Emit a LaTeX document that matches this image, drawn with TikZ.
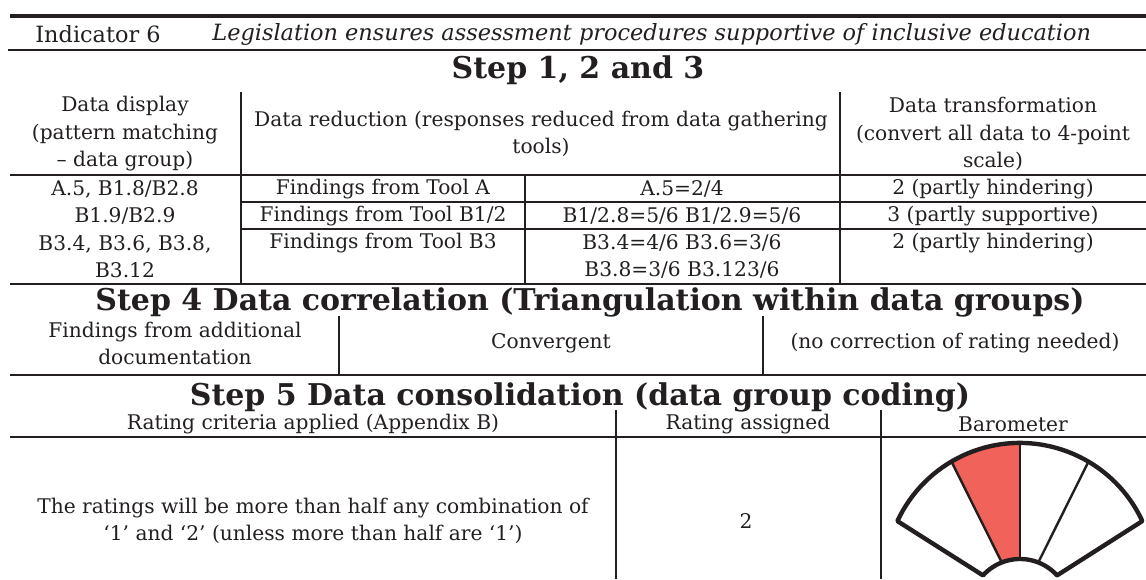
\documentclass[tikz,border=0pt]{standalone}
\usepackage{fontspec}
\setmainfont{DejaVu Serif}
\usepackage{tikz}
\definecolor{inkline}{RGB}{35,31,32}
\definecolor{barored}{RGB}{240,98,90}

\begin{document}
\begin{tikzpicture}[x=0.5pt,y=0.5pt,
		cell/.style={inkline,inner sep=0pt,align=center,font=\fontsize{10.1}{13.75}\selectfont},
		indcell/.style={inkline,inner sep=0pt,anchor=west,font=\fontsize{11.2}{14}\selectfont},
		steptitle/.style={inkline,inner sep=0pt,font=\fontsize{15}{17}\selectfont\bfseries}]
			\useasboundingbox (0,0) rectangle (1146,579);
			
			% indicator row
			\draw [inkline,line width=1.8pt] (10,563)-- (1146,563);
			\node[indcell] (indnum) at (35,545) {Indicator 6};
			\node[indcell] (indtext) at (212,545) {\itshape Legislation ensures assessment procedures supportive of inclusive education};
			\draw [inkline,line width=1pt] (8,529)-- (1146,529);
			
			% step 1, 2 and 3
			\node[steptitle] (stepa) at (578,509) {Step 1, 2 and 3};
			\draw [inkline,line width=1pt] (241,487)-- (241,295);
			\draw [inkline,line width=1pt] (840,487)-- (840,295);
			\draw [inkline,line width=1pt] (525,404)-- (525,295);
			\node[cell] (hdisplay) at (125,445) {Data display\\(pattern matching\\-- data group)};
			\node[cell] (hreduct) at (541,445) {Data reduction (responses reduced from data gathering\\tools)};
			\node[cell] (htrans) at (993,445) {Data transformation\\(convert all data to 4-point\\scale)};
			\draw [inkline,line width=1pt] (10,404)-- (1146,404);
			
			\node[cell] (grpa) at (125,390) {A.5, B1.8/B2.8};
			\node[cell] (grpb) at (125,363) {B1.9/B2.9};
			\node[cell] (grpc) at (125,322.5) {B3.4, B3.6, B3.8,\\B3.12};
			\node[cell] (toola) at (383,390) {Findings from Tool A};
			\node[cell] (toolb) at (383,363) {Findings from Tool B1/2};
			\node[cell] (toolc) at (383,336) {Findings from Tool B3};
			\node[cell] (vala) at (682,390) {A.5=2/4};
			\node[cell] (valb) at (682,363) {B1/2.8=5/6 B1/2.9=5/6};
			\node[cell] (valc) at (682,322.5) {B3.4=4/6 B3.6=3/6\\B3.8=3/6 B3.123/6};
			\node[cell] (scorea) at (993,390) {2 (partly hindering)};
			\node[cell] (scoreb) at (993,363) {3 (partly supportive)};
			\node[cell] (scorec) at (993,336) {2 (partly hindering)};
			\draw [inkline,line width=1pt] (241,377)-- (1146,377);
			\draw [inkline,line width=1pt] (241,350)-- (1146,350);
			\draw [inkline,line width=1pt] (10,295)-- (1146,295);
			
			% step 4
			\node[steptitle] (stepb) at (590,277) {Step 4 Data correlation (Triangulation within data groups)};
			\draw [inkline,line width=1pt] (339,263)-- (339,204);
			\draw [inkline,line width=1pt] (763,263)-- (763,204);
			\node[cell] (addoc) at (175,235.5) {Findings from additional\\documentation};
			\node[cell] (conv) at (551,235.5) {Convergent};
			\node[cell] (nocorr) at (955,235.5) {(no correction of rating needed)};
			\draw [inkline,line width=1pt] (10,204)-- (1146,204);
			
			% step 5
			\node[steptitle] (stepc) at (580,182) {Step 5 Data consolidation (data group coding)};
			\draw [inkline,line width=1pt] (616,169)-- (616,0);
			\draw [inkline,line width=1pt] (881,169)-- (881,0);
			\node[cell] (hcrit) at (313,155) {Rating criteria applied (Appendix B)};
			\node[cell] (hrate) at (748,155) {Rating assigned};
			\node[cell] (hbaro) at (1013,155) {Barometer};
			\draw [inkline,line width=1pt] (10,142)-- (1146,142);
			\node[cell] (crit) at (313,58) {The ratings will be more than half any combination of\\‘1’ and ‘2’ (unless more than half are ‘1’)};
			\node[cell] (rate) at (746,58) {2};
			
			% barometer
			\fill [barored] (1001.75,16.6)-- (951.5,117.4) arc[start angle=120.5,end angle=90,radius=135]-- (1020,20) arc[start angle=90,end angle=111.4,radius=50]-- cycle;
			\draw [inkline,line width=1.2pt] (1001.75,16.6)-- (951.5,117.4);
			\draw [inkline,line width=1.2pt] (1020,20)-- (1020,136);
			\draw [inkline,line width=1.2pt] (1038.3,16.6)-- (1088.5,117.4);
			\draw [inkline,line width=2.2pt,line join=round] (1057,3.6)-- (1142.3,57.9) arc[start angle=24.9,end angle=155.1,radius=135]-- (983,3.6) arc[start angle=137.8,end angle=42.2,radius=50]-- cycle;
		\end{tikzpicture}
\end{document}
